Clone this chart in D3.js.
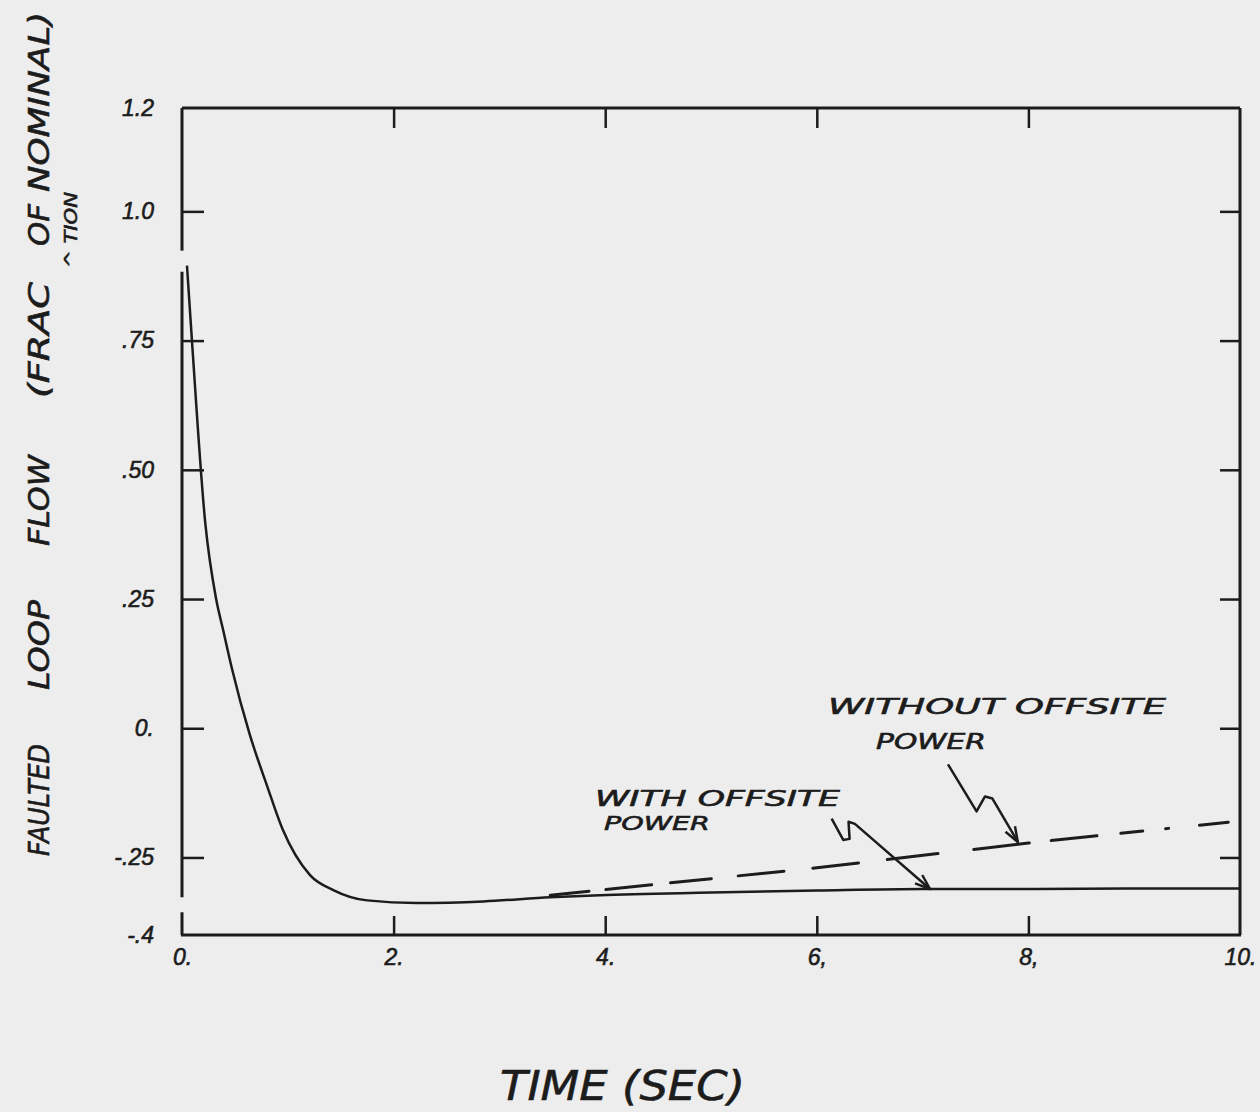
<!doctype html>
<html>
<head>
<meta charset="UTF-8" />
<title>Faulted Loop Flow</title>
<script src="https://d3js.org/d3.v7.min.js"></script>
<style type="text/css">
body {
	margin: 0;
	background: #ededed;
}

svg {
	display: block;
	font-family: "DejaVu Sans", sans-serif;
	font-style: italic;
}

.ink, .axis text {
	fill: #1c1c1c;
	stroke: #1c1c1c;
	stroke-width: 0.6px;
}

.frame {
	stroke: #1c1c1c;
	stroke-width: 3px;
	fill: none;
}

.axis line {
	stroke: #1c1c1c;
	stroke-width: 2.5px;
}

.axis text {
	font-size: 23px;
}

.line {
	fill: none;
	stroke: #1c1c1c;
	stroke-width: 2.5px;
}

.dashed {
	stroke-width: 3px;
	stroke-dasharray: 39 17 46 19 41 27 46 29 46 29 51 36 56 22 46 24 22 23 3 31 29 40;
	stroke-linecap: round;
}

.arrow {
	fill: none;
	stroke: #1c1c1c;
	stroke-width: 2.5px;
	stroke-linejoin: round;
}
</style>
</head>
<body>
<script>
	// time (sec) and faulted loop flow (fraction of nominal)
	var withTime = [0.047, 0.095, 0.22, 0.32, 0.39, 0.47, 0.64, 0.80, 0.95, 1.21, 1.43, 1.75, 2.22, 2.85, 3.48, 3.95, 5, 6, 7, 8, 9, 10];
	var withFlow = [0.895, 0.747, 0.397, 0.253, 0.189, 0.117, -0.012, -0.109, -0.195, -0.284, -0.313, -0.333, -0.338, -0.335, -0.327, -0.323, -0.318, -0.314, -0.311, -0.311, -0.31, -0.31];

	var withoutTime = [3.48, 6, 8, 9.92];
	var withoutFlow = [-0.323, -0.27, -0.222, -0.181];

	var xTicks = [0, 2, 4, 6, 8, 10];
	var xTickLabels = ["0.", "2.", "4.", "6,", "8,", "10."];
	var yTicks = [1.2, 1.0, 0.75, 0.5, 0.25, 0, -0.25, -0.4];
	var yTickLabels = ["1.2", "1.0", ".75", ".50", ".25", "0.", "-.25", "-.4"];

	// annotation arrows, in data units
	var withArrowT = [6.14, 6.25, 6.31, 6.30, 6.36, 7.07];
	var withArrowV = [-0.175, -0.216, -0.214, -0.181, -0.185, -0.311];
	var withoutArrowT = [7.24, 7.51, 7.59, 7.66, 7.90];
	var withoutArrowV = [-0.070, -0.161, -0.132, -0.136, -0.220];

	var plotLeft = 182, plotRight = 1240, plotTop = 108, plotBottom = 935;

	var x = d3.scaleLinear().domain([0, 10]).range([plotLeft, plotRight]);
	var y = d3.scaleLinear().domain([-0.4, 1.2]).range([plotBottom, plotTop]);

	var svg = d3.select("body").append("svg")
		.attr("width", 1260)
		.attr("height", 1112);

	// frame: top, right, bottom, and broken left edge
	svg.append("line").attr("class", "frame")
		.attr("x1", x(0)).attr("x2", x(10)).attr("y1", y(1.2)).attr("y2", y(1.2));
	svg.append("line").attr("class", "frame")
		.attr("x1", x(10)).attr("x2", x(10)).attr("y1", y(1.2)).attr("y2", y(-0.4));
	svg.append("line").attr("class", "frame")
		.attr("x1", x(0) - 1).attr("x2", x(10) + 1).attr("y1", y(-0.4)).attr("y2", y(-0.4));
	[[1.2, 0.924], [0.883, -0.327], [-0.356, -0.4]].forEach(function(s) {
		svg.append("line").attr("class", "frame")
			.attr("x1", x(0)).attr("x2", x(0)).attr("y1", y(s[0])).attr("y2", y(s[1]));
	});

	var inner = [2, 4, 6, 8];
	var innerY = [1.0, 0.75, 0.5, 0.25, 0, -0.25];

	var yAxis = d3.axisLeft(y)
		.tickValues(yTicks)
		.tickFormat(function(d, i) { return yTickLabels[i]; })
		.tickSizeInner(-22)
		.tickSizeOuter(0)
		.tickPadding(28);

	svg.append("g")
		.attr("class", "y axis")
		.attr("transform", "translate(" + plotLeft + ",0)")
		.call(yAxis)
		.call(function(g) { g.select(".domain").remove(); })
		.selectAll(".tick line")
		.style("display", function(d) { return innerY.indexOf(d) < 0 ? "none" : null; });

	svg.append("g")
		.attr("class", "y axis")
		.attr("transform", "translate(" + plotRight + ",0)")
		.call(d3.axisRight(y).tickValues(innerY).tickSize(-20).tickFormat(""))
		.call(function(g) { g.select(".domain").remove(); });

	var xAxis = d3.axisBottom(x)
		.tickValues(xTicks)
		.tickFormat(function(d, i) { return xTickLabels[i]; })
		.tickSizeInner(-19)
		.tickSizeOuter(0)
		.tickPadding(14);

	svg.append("g")
		.attr("class", "x axis")
		.attr("transform", "translate(0," + plotBottom + ")")
		.call(xAxis)
		.call(function(g) { g.select(".domain").remove(); })
		.selectAll(".tick line")
		.style("display", function(d) { return inner.indexOf(d) < 0 ? "none" : null; });

	svg.append("g")
		.attr("class", "x axis")
		.attr("transform", "translate(0," + plotTop + ")")
		.call(d3.axisTop(x).tickValues(inner).tickSize(-20).tickFormat(""))
		.call(function(g) { g.select(".domain").remove(); });

	var line = d3.line()
		.x(function(d) { return x(d[0]); })
		.y(function(d) { return y(d[1]); });

	svg.append("path")
		.datum(d3.zip(withTime, withFlow))
		.attr("class", "line")
		.attr("d", line.curve(d3.curveMonotoneX));

	svg.append("path")
		.datum(d3.zip(withoutTime, withoutFlow))
		.attr("class", "line dashed")
		.attr("d", line.curve(d3.curveLinear));

	// arrows with small heads
	function arrow(ts, vs) {
		var pts = d3.zip(ts, vs);
		svg.append("path")
			.datum(pts)
			.attr("class", "arrow")
			.attr("d", d3.line().x(function(d) { return x(d[0]); }).y(function(d) { return y(d[1]); }));
		var a = pts[pts.length - 2], b = pts[pts.length - 1];
		var ang = Math.atan2(y(b[1]) - y(a[1]), x(b[0]) - x(a[0]));
		var bx = x(b[0]), by = y(b[1]);
		svg.append("path")
			.attr("class", "arrow")
			.attr("d", "M" + (bx - 16 * Math.cos(ang - 0.35)) + "," + (by - 16 * Math.sin(ang - 0.35)) +
				"L" + bx + "," + by +
				"L" + (bx - 16 * Math.cos(ang + 0.35)) + "," + (by - 16 * Math.sin(ang + 0.35)));
	}
	arrow(withArrowT, withArrowV);
	arrow(withoutArrowT, withoutArrowV);

	function label(txt, px, py, size, len) {
		svg.append("text")
			.attr("class", "ink")
			.attr("x", px).attr("y", py)
			.attr("textLength", len)
			.attr("lengthAdjust", "spacingAndGlyphs")
			.style("font-size", size + "px")
			.text(txt);
	}
	label("WITH  OFFSITE", 595, 806, 21, 245);
	label("POWER", 604, 830, 20, 106);
	label("WITHOUT  OFFSITE", 828, 714, 22, 338);
	label("POWER", 876, 749, 21, 110);

	label("TIME (SEC)", 500, 1100, 40, 245);

	// rotated y axis title, word by word
	var words = ["FAULTED", "LOOP", "FLOW", "(FRAC", "OF", "NOMINAL)"];
	var wordStart = [856, 690, 546, 398, 246, 192];
	var wordEnd = [744, 600, 455, 282, 204, 12];
	words.forEach(function(w, i) {
		svg.append("text")
			.attr("class", "ink")
			.attr("transform", "translate(49," + wordStart[i] + ") rotate(-90)")
			.attr("textLength", wordStart[i] - wordEnd[i])
			.attr("lengthAdjust", "spacingAndGlyphs")
			.style("font-size", "28px")
			.text(w);
	});
	svg.append("text")
		.attr("class", "ink")
		.attr("transform", "translate(77,268) rotate(-90)")
		.attr("textLength", 76)
		.attr("lengthAdjust", "spacingAndGlyphs")
		.style("font-size", "17px")
		.text("^ TION");
</script>
</body>
</html>
